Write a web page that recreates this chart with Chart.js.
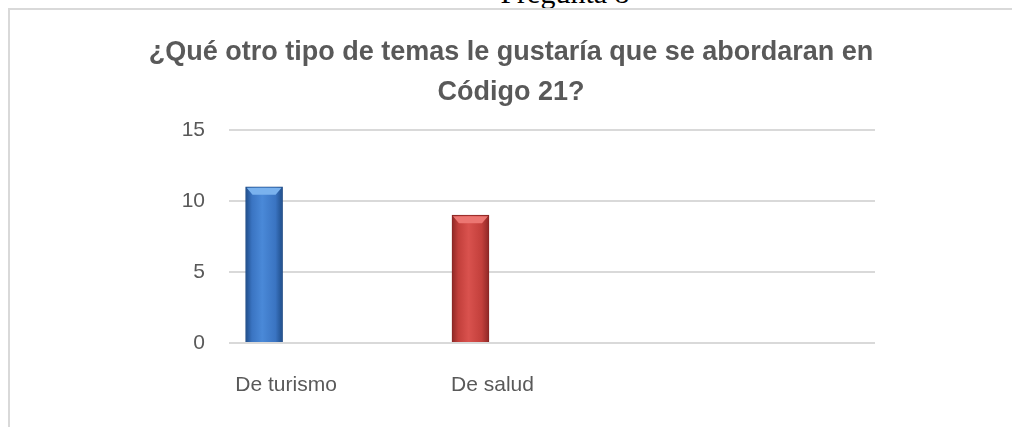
<!DOCTYPE html>
<html>
<head>
<meta charset="utf-8">
<script src="https://cdn.jsdelivr.net/npm/chart.js@4.4.1/dist/chart.umd.min.js"></script>
<style>
  html, body { margin: 0; padding: 0; background: #fff; }
  body { width: 1012px; height: 427px; position: relative; overflow: hidden; }
  #pregunta { position: absolute; left: 0; width: 1130px; top: -24px; text-align: center;
    font-family: "Liberation Serif", serif; font-size: 30px; color: #000; }
  #frame { position: absolute; left: 8px; top: 8px; width: 1010px; height: 430px;
    border-left: 2px solid #d9d9d9; border-top: 2px solid #d9d9d9; }
  #wrap { position: absolute; left: 10px; top: 10px; width: 1002px; height: 417px; }
</style>
</head>
<body>
<div id="pregunta">Pregunta 8</div>
<div id="frame"></div>
<div id="wrap"><canvas id="chart"></canvas></div>
<script>
let categories = ['De turismo', 'De salud'];
let values = [11, 9];
let yTicks = [0, 5, 10, 15];
let titleLines = ['¿Qué otro tipo de temas le gustaría que se abordaran en', 'Código 21?'];

let edgeColors = ['#1d4a85', '#8a2624'];
let midColors = ['#4a89d8', '#d9524e'];
let bodyColors = ['#3a74c2', '#c23f3b'];
let topColors = ['#7ab2ee', '#ec7672'];

let tickFont = { family: '"Liberation Sans", Arial, sans-serif', size: 21 };

function barFill(ctx) {
  let chart = ctx.chart;
  let i = ctx.dataIndex;
  if (!chart.chartArea || !chart.scales.x) return bodyColors[i];
  let cx = chart.scales.x.getPixelForValue(i);
  let g = chart.ctx.createLinearGradient(cx - 19, 0, cx + 19, 0);
  g.addColorStop(0, edgeColors[i]);
  g.addColorStop(0.18, bodyColors[i]);
  g.addColorStop(0.45, midColors[i]);
  g.addColorStop(0.8, bodyColors[i]);
  g.addColorStop(1, edgeColors[i]);
  return g;
}

// light bevel on the top of each bar
let bevel = {
  id: 'bevel',
  afterDatasetsDraw(chart) {
    let c = chart.ctx;
    chart.getDatasetMeta(0).data.forEach(function (el, i) {
      let l = el.x - el.width / 2, r = el.x + el.width / 2, t = el.y;
      c.save();
      c.fillStyle = topColors[i];
      c.beginPath();
      c.moveTo(l + 1, t + 1);
      c.lineTo(r - 1, t + 1);
      c.lineTo(r - 7, t + 8);
      c.lineTo(l + 7, t + 8);
      c.closePath();
      c.fill();
      c.restore();
    });
  }
};

new Chart(document.getElementById('chart'), {
  type: 'bar',
  data: {
    datasets: [{
      data: values.map(function (v, i) { return { x: i, y: v }; }),
      backgroundColor: barFill,
      borderColor: edgeColors,
      borderWidth: 1,
      barThickness: 37
    }]
  },
  options: {
    responsive: true,
    maintainAspectRatio: false,
    animation: false,
    layout: { padding: 0 },
    plugins: {
      legend: { display: false },
      tooltip: { enabled: false },
      title: {
        display: true,
        text: titleLines,
        color: '#595959',
        font: { family: '"Liberation Sans", Arial, sans-serif', size: 27, weight: 'bold', lineHeight: 1.48 },
        padding: { top: 23, bottom: 17 }
      }
    },
    scales: {
      x: {
        type: 'linear',
        offset: false,
        min: -0.17,
        max: 2.96,
        grid: { display: false },
        border: { display: false },
        afterBuildTicks: function (scale) {
          scale.ticks = categories.map(function (c, i) { return { value: i }; });
        },
        afterFit: function (scale) { scale.height = 84; },
        ticks: {
          callback: function (v) { return categories[v]; },
          labelOffset: 22,
          padding: 22,
          color: '#595959',
          font: tickFont,
          maxRotation: 0,
          autoSkip: false
        }
      },
      y: {
        min: 0,
        max: 15,
        afterBuildTicks: function (scale) {
          scale.ticks = yTicks.map(function (v) { return { value: v }; });
        },
        afterFit: function (scale) { scale.width = 219; },
        grid: { color: '#d9d9d9', lineWidth: 2, drawTicks: false },
        border: { display: false },
        ticks: { padding: 24, color: '#595959', font: tickFont }
      },
      yRight: {
        position: 'right',
        grid: { display: false },
        border: { display: false },
        ticks: { display: false },
        afterFit: function (scale) { scale.width = 137; }
      }
    }
  },
  plugins: [bevel]
});
</script>
</body>
</html>
